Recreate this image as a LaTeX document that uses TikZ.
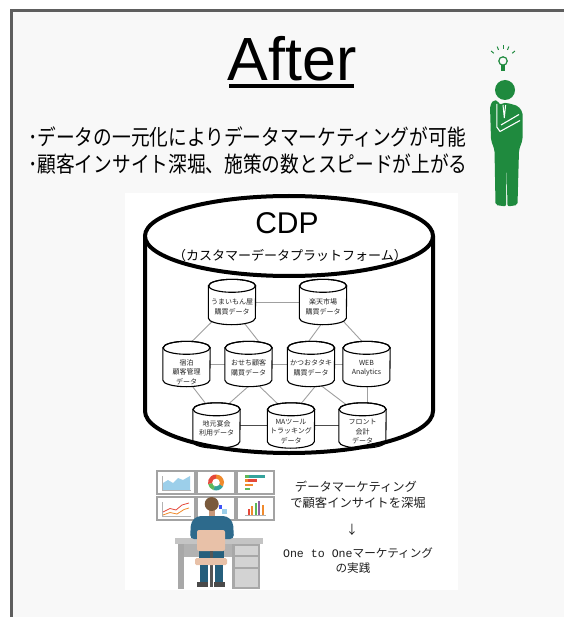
\documentclass[tikz,border=0pt]{standalone}
\usepackage{fontspec}
\newfontfamily\jp{Noto Sans CJK JP}
\newfontfamily\jpn[FakeStretch=0.85]{Noto Sans CJK JP}
\newfontfamily\lat{Liberation Sans}
\newfontfamily\mono{Liberation Mono}

\pgfdeclarelayer{ground}
\pgfdeclarelayer{links}
\pgfdeclarelayer{drums}
\pgfsetlayers{ground,links,drums,main}

\definecolor{framegray}{HTML}{5E5E5E}
\definecolor{panel}{HTML}{F8F8F8}
\definecolor{leaf}{HTML}{1F8A3E}
\definecolor{linkgray}{HTML}{A0A0A0}
\definecolor{mongray}{HTML}{A3A3A3}
\definecolor{skyb}{HTML}{9CCFEA}
\definecolor{orng}{HTML}{F08A2C}
\definecolor{tealc}{HTML}{35A39C}
\definecolor{grnc}{HTML}{5DB85A}
\definecolor{redc}{HTML}{E5483A}
\definecolor{purc}{HTML}{8E5EA2}
\definecolor{hair}{HTML}{7A5A3C}
\definecolor{skin}{HTML}{C9987A}
\definecolor{shirt}{HTML}{2D6A8C}
\definecolor{pants}{HTML}{265F7C}
\definecolor{chair}{HTML}{E8C1A8}
\definecolor{post}{HTML}{555555}
\definecolor{shoe}{HTML}{4A4A4A}
\definecolor{desktop}{HTML}{C4C4C4}
\definecolor{deskside}{HTML}{A8A8A8}
\definecolor{deskback}{HTML}{B2B2B2}
\definecolor{drawer}{HTML}{D3D3D3}

\tikzset{
  drum/.style={minimum width=47pt, minimum height=45pt, inner sep=0pt},
  drumtext/.style={font=\jp\fontsize{7}{9.4}\selectfont, align=center, text=black!85, inner sep=0pt},
  link/.style={draw=linkgray, line width=0.9pt},
  darklink/.style={draw=black!70, line width=0.9pt},
  drumline/.style={draw=black, line width=1.1pt, fill=white},
  monitor/.style={draw=mongray, line width=1.6pt, fill=white},
  caption/.style={font=\jp\fontsize{12.3}{14}\selectfont, text=black!88, inner sep=0pt},
}

% outline of a small data drum around the box of a node
\newcommand\drumbody[1]{%
  \begin{pgfonlayer}{drums}
    \path[drumline] ([yshift=-6.5pt]#1.north west) -- ([yshift=6.5pt]#1.south west)
      arc[start angle=180,end angle=360,x radius=23.5pt,y radius=6.5pt]
      -- ([yshift=-6.5pt]#1.north east)
      arc[start angle=0,end angle=180,x radius=23.5pt,y radius=6.5pt] -- cycle;
    \draw[line width=1.1pt] ([yshift=-6.5pt]#1.north) ellipse[x radius=23.5pt,y radius=6.5pt];
  \end{pgfonlayer}}

\begin{document}
\begin{tikzpicture}[x=1pt,y=-1pt]
\useasboundingbox (0,0) rectangle (564,617);

% page, panel and its frame
\begin{pgfonlayer}{ground}
  \fill[white] (0,0) rectangle (564,617);
  \fill[panel] (11,11) rectangle (564,617);
  \draw[framegray, line width=3pt] (11,617) -- (11,11) -- (564,11);
  \fill[white] (125,193) rectangle (458,590);
\end{pgfonlayer}

% heading
\node[anchor=base, inner sep=0pt, font=\lat\fontsize{61}{61}\selectfont] (title) at (292,81) {After};
\draw[line width=4pt] (229,86.5) -- (354,86.5);

% bullet lines
\node[anchor=west, inner sep=0pt, font=\jpn\fontsize{22}{26}\selectfont] (b1) at (28,137)
  {･データの一元化によりデータマーケティングが可能};
\node[anchor=west, inner sep=0pt, font=\jpn\fontsize{22}{26}\selectfont] (b2) at (28,164)
  {･顧客インサイト深堀、施策の数とスピードが上がる};

% thinking man with a light bulb
\fill[leaf] (505,90) circle[radius=10pt];
\fill[leaf, rounded corners=2pt] (493.3,100) -- (490,106) -- (491,140) -- (494.5,150)
  -- (495.5,205) -- (506,206.5) -- (506.5,162) -- (507.5,206.5) -- (517.5,205) -- (519,150)
  -- (522.5,140) -- (522.5,112) -- (518,106) -- (507.5,103) -- (502.5,103) -- (499.5,105)
  -- (498.5,101) -- cycle;
\draw[white, line width=1pt] (503,105) -- (504.3,118) -- (505.6,105);
\draw[white, line width=1.1pt, line join=round] (496.8,104) -- (496.8,127) -- (500,131.5) -- (520,120.5);
\draw[white, line width=1.1pt] (501,125) -- (519,114.5);
\draw[leaf, line width=1.2pt] (503,61) circle[radius=4.2pt];
\fill[leaf] (501,65.5) rectangle (505,71);
\foreach \a in {140,112,90,68,40}{
  \draw[leaf, line width=1pt] (503,61) ++(\a:12pt) -- ++(\a:3.5pt);
}

% CDP drum
\draw[line width=4pt] (145,236) -- (145,411)
  arc[start angle=180,end angle=360,x radius=144pt,y radius=42pt] -- (433,236);
\draw[line width=4pt, fill=white] (289,236) ellipse[x radius=144pt,y radius=40pt];
\node[anchor=base, inner sep=0pt, font=\lat\fontsize{30}{30}\selectfont] (cdp) at (287,233.5) {CDP};
\node[inner sep=0pt, font=\jp\fontsize{13}{14}\selectfont] (cdpsub) at (290,256)
  {（カスタマーデータプラットフォーム）};

% data sources
\node[drum, label={[drumtext, yshift=-5pt]center:{うまいもん屋\\購買データ}}] (A) at (232,302) {};
\node[drum, label={[drumtext, yshift=-5pt]center:{楽天市場\\購買データ}}] (B) at (323,302) {};
\node[drum, label={[drumtext, yshift=-8pt]center:{宿泊\\顧客管理\\データ}}] (C) at (186.5,364) {};
\node[drum, label={[drumtext, yshift=-4pt]center:{おせち顧客\\購買データ}}] (D) at (248.5,364) {};
\node[drum, label={[drumtext, yshift=-4pt]center:{かつおタタキ\\購買データ}}] (E) at (311,364) {};
\node[drum, label={[drumtext, yshift=-4pt]center:{WEB\\Analytics}}] (F) at (366.5,364) {};
\node[drum, label={[drumtext, yshift=-3pt]center:{地元宴会\\利用データ}}] (G) at (216.5,425.5) {};
\node[drum, label={[drumtext, yshift=-6pt]center:{MAツール\\トラッキング\\データ}}] (H) at (291,425.5) {};
\node[drum, label={[drumtext, yshift=-6pt]center:{フロント\\会計\\データ}}] (I) at (362.5,425.5) {};
\foreach \n in {A,B,C,D,E,F,G,H,I}{\drumbody{\n}}

\begin{pgfonlayer}{links}
  \draw[link] (A.center) -- (B.center);
  \draw[link] (C.center) -- (D.center);
  \draw[link] (D.center) -- (E.center);
  \draw[link] (E.center) -- (F.center);
  \draw[darklink] (G.center) -- (H.center);
  \draw[darklink] (H.center) -- (I.center);
  \draw[link] ([shift={(-16,-7)}]A.south) -- ([shift={(0.5,5)}]C.north);
  \draw[link] ([shift={(8,-7)}]A.south) -- ([shift={(14,5)}]D.north);
  \draw[link] ([shift={(3,-7)}]B.south) -- ([shift={(-6,5)}]E.north);
  \draw[link] ([shift={(17,-7)}]B.south) -- ([shift={(0,5)}]F.north);
  \draw[link] ([shift={(0,-8)}]C.south) -- ([shift={(-6,7)}]G.north);
  \draw[link] ([shift={(8.5,-8)}]D.south) -- ([shift={(5.5,7)}]G.north);
  \draw[link] ([shift={(3,-8)}]D.south) -- ([shift={(-7,7)}]H.north);
  \draw[link] ([shift={(10.5,-8)}]E.south) -- ([shift={(5,7)}]H.north);
  \draw[link] ([shift={(1,-8)}]E.south) -- ([shift={(-9.5,7)}]I.north);
  \draw[link] ([shift={(0.5,-8)}]F.south) -- ([shift={(4.5,7)}]I.north);
\end{pgfonlayer}

% wall of monitors
\draw[monitor] (157,471) rectangle (195,494);
\draw[monitor] (197,471) rectangle (235,494);
\draw[monitor] (237,471) rectangle (274,494);
\draw[monitor] (157,497) rectangle (195,520);
\draw[monitor] (197,497) rectangle (235,520);
\draw[monitor] (237,497) rectangle (274,520);
% area chart
\fill[skyb] (163,490) -- (163,483) -- (168,480) -- (173,483) -- (178,478) -- (183,480) -- (190,476) -- (190,490) -- cycle;
\draw[gray!60, line width=0.6pt] (162,476) -- (162,490.5) -- (191,490.5);
% donut chart
\fill[orng] (216,482.5) -- ++(90:8pt) arc[start angle=90,end angle=-30,radius=8pt] -- cycle;
\fill[tealc] (216,482.5) -- ++(-30:8pt) arc[start angle=-30,end angle=-110,radius=8pt] -- cycle;
\fill[grnc] (216,482.5) -- ++(-110:8pt) arc[start angle=-110,end angle=-170,radius=8pt] -- cycle;
\fill[redc] (216,482.5) -- ++(-170:8pt) arc[start angle=-170,end angle=-270,radius=8pt] -- cycle;
\fill[white] (216,482.5) circle[radius=3.8pt];
% bar chart
\fill[tealc] (245,475) rectangle (265,477.8);
\fill[redc] (245,479.3) rectangle (257,482);
\fill[orng] (245,483.5) rectangle (253,486.2);
\fill[grnc] (245,487.7) rectangle (250,490.4);
\fill[grnc] (245,475) rectangle (249,477.8);
\fill[orng] (245,479.3) rectangle (248,482);
% line chart
\draw[gray!60, line width=0.6pt] (162,502) -- (162,516.5) -- (191,516.5);
\draw[redc, line width=0.8pt] (163,512) -- (170,508.5) -- (176,510) -- (182,505) -- (189,503);
\draw[orng, line width=0.8pt] (163,515) -- (170,512.5) -- (177,514) -- (184,509.5) -- (189,508);
% column chart
\fill[redc] (247.5,509) rectangle (249.8,515);
\fill[orng] (251,506) rectangle (253.3,515);
\fill[grnc] (254.5,503) rectangle (256.8,515);
\fill[purc] (258,501) rectangle (260.3,515);
\fill[orng] (261.5,505) rectangle (263.8,515);
\draw[gray!60, line width=0.6pt] (245,515.5) -- (266,515.5);
% partly hidden chart
\fill[skyb] (222,509) rectangle (227,514);

% desk
\fill[desktop] (175,538) rectangle (263,543.5);
\fill[deskside] (178,543.5) rectangle (184,589);
\fill[deskback] (184,543.5) rectangle (232,557);
\fill[deskside] (232,543.5) rectangle (260,589);
\fill[drawer] (234.5,546) rectangle (257.5,554.5);
\fill[drawer] (234.5,557) rectangle (257.5,566.5);
\fill[drawer] (234.5,569) rectangle (257.5,587);

% person seen from behind
\fill[skin] (208.5,508) rectangle (215,518);
\fill[hair] (211.7,504) circle[radius=7pt];
\fill[skyb!40!blue] (219,505) rectangle (222,509);
\fill[shirt, rounded corners=4pt] (190,539) -- (191,522) -- (197,516) -- (227,516) -- (233,522) -- (234,539) -- cycle;
\fill[pants] (199,549) rectangle (224,558);
\fill[chair, rounded corners=2pt] (197,530) rectangle (225,551);
\fill[post] (209.5,551) rectangle (213,558);
\fill[post] (209.5,565) rectangle (213,587);
\fill[chair, rounded corners=1.5pt] (195,558) rectangle (227,565);
\fill[pants] (200,565) rectangle (207.5,583);
\fill[pants] (215,565) rectangle (222.5,583);
\fill[shoe] (197,582) rectangle (208,587);
\fill[shoe] (214,582) rectangle (225,587);

% captions
\node[caption] (t1) at (356,487) {データマーケティング};
\node[caption] (t2) at (358,503) {で顧客インサイトを深堀};
\node[caption] (t3) at (352,530) {↓};
\node[caption, font=\jp\fontsize{11.6}{14}\selectfont] (t4) at (358,553) {{\mono One to One}マーケティング};
\node[caption, font=\jp\fontsize{11.6}{14}\selectfont] (t5) at (353,568) {の実践};
\end{tikzpicture}
\end{document}
